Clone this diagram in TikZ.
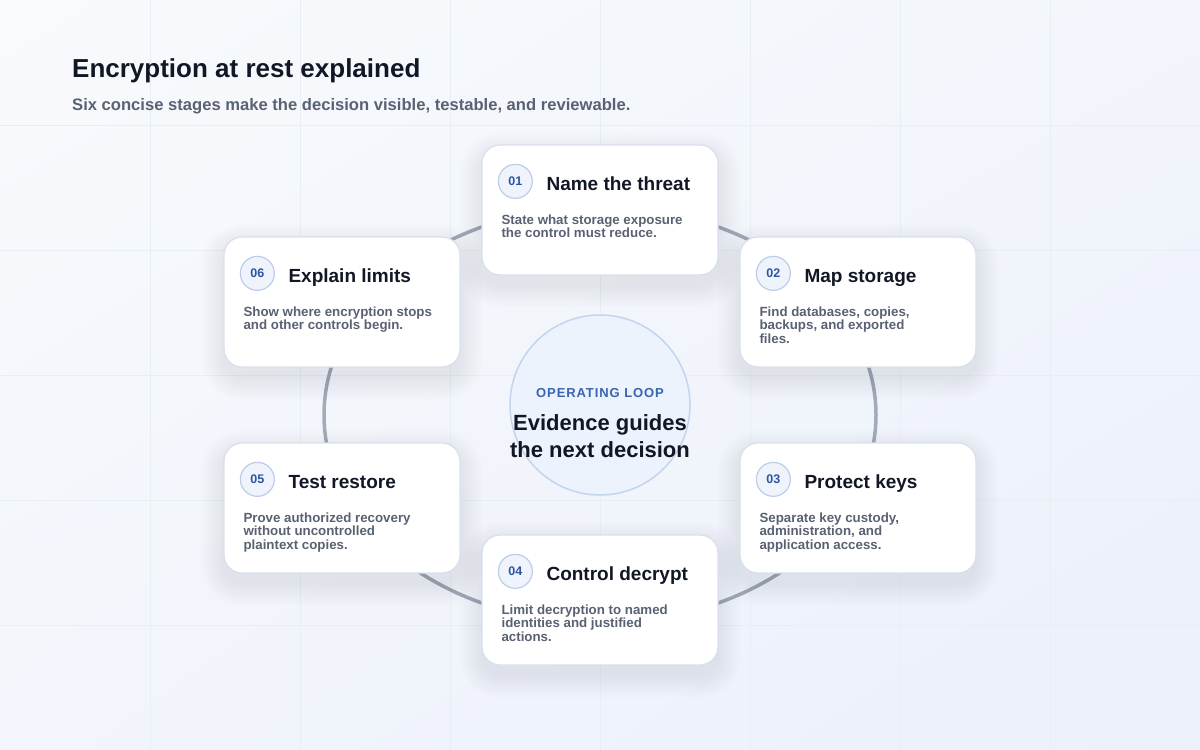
\documentclass[tikz,border=0pt]{standalone}
\usepackage{fontspec}
\setmainfont{Liberation Sans}
\newfontfamily\spacedfont[LetterSpace=7]{Liberation Sans}
\usetikzlibrary{calc,shadings}
\definecolor{bgtop}{HTML}{F8FAFD}
\definecolor{bgmid}{HTML}{F2F5FB}
\definecolor{bgbot}{HTML}{EBF0FA}
\definecolor{gridc}{HTML}{E9EDF4}
\definecolor{ink}{HTML}{111725}
\definecolor{muted}{HTML}{596272}
\definecolor{ringc}{HTML}{A4ABB8}
\definecolor{cardline}{HTML}{D9E0EB}
\definecolor{badgefill}{HTML}{EEF3FC}
\definecolor{badgeline}{HTML}{BDCDE8}
\definecolor{badgetext}{HTML}{2D55A3}
\definecolor{hubfill}{HTML}{EDF3FD}
\definecolor{hubline}{HTML}{C3D4EE}
\definecolor{hubtext}{HTML}{3A63B4}
\definecolor{shadowc}{HTML}{46536B}
\tikzset{
  card/.style={draw=cardline, line width=1.3pt, fill=white, rounded corners=18pt,
    minimum width=236pt, minimum height=130pt, inner sep=0pt},
  badge/.style={circle, draw=badgeline, line width=1.2pt, fill=badgefill,
    minimum size=34pt, inner sep=0pt, text=badgetext,
    font=\fontsize{12.5}{12.5}\selectfont\bfseries},
  ctitle/.style={anchor=base west, inner sep=0pt, text=ink,
    font=\fontsize{19}{19}\selectfont\bfseries},
  cdesc/.style={anchor=north west, inner sep=0pt, align=left, text=muted,
    font=\fontsize{13.3}{13.5}\selectfont\bfseries},
  ring/.style={draw=ringc, line width=3.5pt},
  gridline/.style={draw=gridc, line width=0.8pt},
}
\newcommand\stagecard[6]{%
  \foreach \s in {1,...,18}{%
    \fill[shadowc, opacity=0.0058, rounded corners=18+1.3*\s]
      (#2-118-1.3*\s, #3-65-1.3*\s+10) rectangle (#2+118+1.3*\s, #3+65+1.3*\s+10);}
  \node[card] (#1) at (#2,#3) {};
  \node[badge] (#1n) at ($(#1.north west)+(34,37)$) {#4};
  \node[ctitle] (#1t) at ($(#1.north west)+(65,46)$) {#5};
  \node[cdesc] (#1d) at ($(#1.north west)+(20,70)$) {#6};
}
\begin{document}
\begin{tikzpicture}[x=1pt,y=-1pt]
\useasboundingbox (0,0) rectangle (1200,750);
\shade[upper left=bgtop, upper right=bgmid, lower left=bgmid, lower right=bgbot]
  (0,0) rectangle (1200,750);
\foreach \gx in {150,300,...,1050} {\draw[gridline] (\gx,0) -- (\gx,750);}
\foreach \gy in {125,250,...,625} {\draw[gridline] (0,\gy) -- (1200,\gy);}
\node[anchor=base west, inner sep=0pt, text=ink, font=\fontsize{26}{26}\selectfont\bfseries]
  (title) at (72,77) {Encryption at rest explained};
\node[anchor=base west, inner sep=0pt, text=muted, font=\fontsize{16.6}{16.6}\selectfont\bfseries]
  (subtitle) at (72,110) {Six concise stages make the decision visible, testable, and reviewable.};
\draw[ring] (600,415) ellipse [x radius=276, y radius=208];
\stagecard{s1}{600}{210}{01}{Name the threat}{State what storage exposure\\the control must reduce.}
\stagecard{s2}{858}{302}{02}{Map storage}{Find databases, copies,\\backups, and exported\\files.}
\stagecard{s3}{858}{508}{03}{Protect keys}{Separate key custody,\\administration, and\\application access.}
\stagecard{s4}{600}{600}{04}{Control decrypt}{Limit decryption to named\\identities and justified\\actions.}
\stagecard{s5}{342}{508}{05}{Test restore}{Prove authorized recovery\\without uncontrolled\\plaintext copies.}
\stagecard{s6}{342}{302}{06}{Explain limits}{Show where encryption stops\\and other controls begin.}
\node[circle, draw=hubline, line width=1.5pt, fill=hubfill, minimum size=180pt, inner sep=0pt]
  (hub) at (600,405) {};
\node[anchor=base, inner sep=0pt, text=hubtext, font=\spacedfont\fontsize{13}{13}\selectfont\bfseries]
  (hubkicker) at (600,397) {OPERATING LOOP};
\node[anchor=base, inner sep=0pt, text=ink, font=\fontsize{22}{22}\selectfont\bfseries]
  (hubl1) at (600,430) {Evidence guides};
\node[anchor=base, inner sep=0pt, text=ink, font=\fontsize{22}{22}\selectfont\bfseries]
  (hubl2) at (600,457) {the next decision};
\end{tikzpicture}
\end{document}
